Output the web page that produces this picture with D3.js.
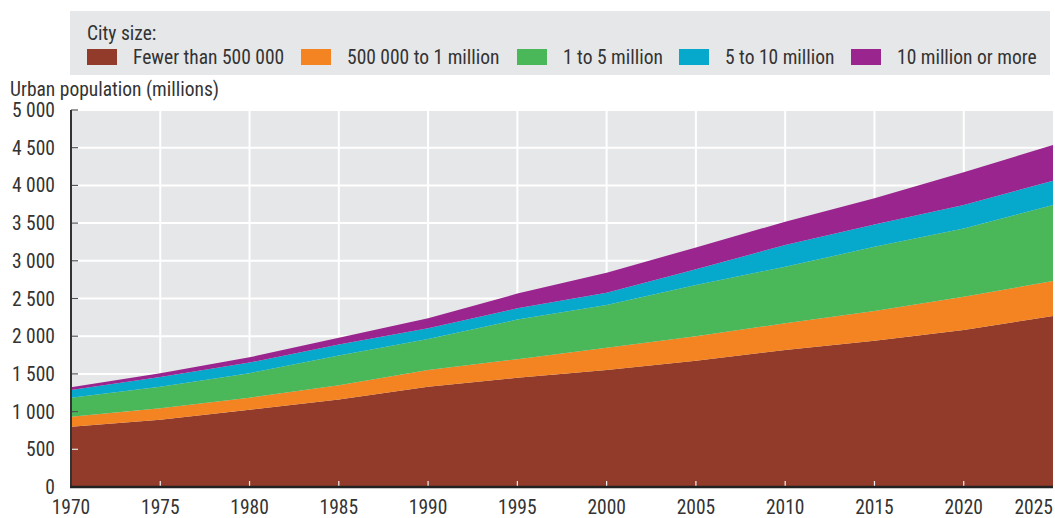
<!DOCTYPE html>
<html>
<head>
<meta charset="utf-8">
<script src="https://cdn.jsdelivr.net/npm/d3@7"></script>
<style>
  html, body { margin: 0; padding: 0; background: #fff; }
  svg { display: block; font-family: "Liberation Sans Narrow", "Roboto Condensed", "DejaVu Sans Condensed", sans-serif; }
  text { fill: #333; }
</style>
</head>
<body>
<svg id="chart" width="1055" height="518"></svg>
<script>
// Urban population by city size class, millions
const years = [1970, 1975, 1980, 1985, 1990, 1995, 2000, 2005, 2010, 2015, 2020, 2025];
const fewer500k = [800, 892, 1025, 1160, 1330, 1448, 1551, 1673, 1817, 1940, 2082, 2268];
const k500to1m = [132, 151, 160, 190, 221, 247, 296, 327, 354, 395, 442, 464];
const m1to5 = [252, 287, 325, 395, 411, 525, 567, 679, 750, 850, 906, 1007];
const m5to10 = [102, 130, 140, 145, 142, 150, 163, 208, 288, 295, 309, 323];
const m10plus = [36, 48, 70, 90, 133, 195, 265, 290, 309, 350, 436, 473];

const seriesNames = ["Fewer than 500 000", "500 000 to 1 million", "1 to 5 million", "5 to 10 million", "10 million or more"];
const seriesValues = [fewer500k, k500to1m, m1to5, m5to10, m10plus];
const colors = ["#933b2b", "#f48322", "#4ab859", "#06a8cc", "#9a258f"];
const yTicks = [0, 500, 1000, 1500, 2000, 2500, 3000, 3500, 4000, 4500, 5000];

const rows = years.map((yr, i) => {
  const r = { year: yr };
  seriesNames.forEach((n, j) => { r[n] = seriesValues[j][i]; });
  return r;
});

const svg = d3.select("#chart");
const fmt = d3.formatLocale({ decimal: ".", thousands: " ", grouping: [3], currency: ["", ""] }).format(",d");
const fs = 19.5;

const plotL = 71, plotR = 1053, plotT = 110, plotB = 487;
const x = d3.scaleLinear().domain([1970, 2025]).range([plotL, plotR]);
const y = d3.scaleLinear().domain([0, 5000]).range([plotB, plotT]);

// legend panel
svg.append("rect").attr("x", 70).attr("y", 11).attr("width", 980).attr("height", 64).attr("fill", "#e6e7e8");
svg.append("text").attr("x", 87).attr("y", 40).attr("font-size", fs).text("City size:");
const legendX = [87, 301, 517, 679, 851];
seriesNames.forEach((n, i) => {
  svg.append("rect").attr("x", legendX[i]).attr("y", 49).attr("width", 30).attr("height", 16).attr("fill", colors[i]);
  svg.append("text").attr("x", legendX[i] + 46).attr("y", 64).attr("font-size", fs).text(n);
});

// plot background + grid
svg.append("rect").attr("x", plotL).attr("y", plotT).attr("width", plotR - plotL).attr("height", plotB - plotT).attr("fill", "#e6e7e8");
svg.append("g").selectAll("line").data(yTicks.slice(1)).join("line")
  .attr("x1", plotL).attr("x2", plotR).attr("y1", d => y(d)).attr("y2", d => y(d))
  .attr("stroke", "#fff").attr("stroke-width", 2);
svg.append("g").selectAll("line").data(years.slice(1, -1)).join("line")
  .attr("x1", d => x(d)).attr("x2", d => x(d)).attr("y1", plotT).attr("y2", plotB)
  .attr("stroke", "#fff").attr("stroke-width", 2);

// stacked areas
const stack = d3.stack().keys(seriesNames)(rows);
const area = d3.area().x(d => x(d.data.year)).y0(d => y(d[0])).y1(d => y(d[1]));
svg.append("g").selectAll("path").data(stack).join("path")
  .attr("d", area).attr("fill", (d, i) => colors[i]);

// ticks
svg.append("g").selectAll("line").data(yTicks.slice(1)).join("line")
  .attr("x1", plotL).attr("x2", plotL + 7).attr("y1", d => y(d)).attr("y2", d => y(d))
  .attr("stroke", d => d <= 500 ? "#e8e8e8" : "#555").attr("stroke-width", 1.2);
svg.append("g").selectAll("line").data(years.slice(1, -1)).join("line")
  .attr("x1", d => x(d)).attr("x2", d => x(d)).attr("y1", plotB - 6).attr("y2", plotB)
  .attr("stroke", "#f2f2f2").attr("stroke-width", 1.2);

// axis lines
svg.append("line").attr("x1", plotL).attr("x2", plotL).attr("y1", plotT).attr("y2", plotB + 1)
  .attr("stroke", "#333").attr("stroke-width", 2);
svg.append("line").attr("x1", plotL - 1).attr("x2", plotR).attr("y1", plotB).attr("y2", plotB)
  .attr("stroke", "#222").attr("stroke-width", 2.5);

// labels
svg.append("g").selectAll("text").data(yTicks).join("text")
  .attr("x", 55).attr("y", d => y(d) + 7).attr("text-anchor", "end").attr("font-size", fs)
  .text(d => fmt(d));
svg.append("g").selectAll("text").data(years).join("text")
  .attr("x", d => x(d)).attr("y", 514)
  .attr("text-anchor", (d, i) => i === years.length - 1 ? "end" : "middle")
  .attr("font-size", fs).text(d => d);
svg.append("text").attr("x", 10).attr("y", 96).attr("font-size", fs).text("Urban population (millions)");
</script>
</body>
</html>
